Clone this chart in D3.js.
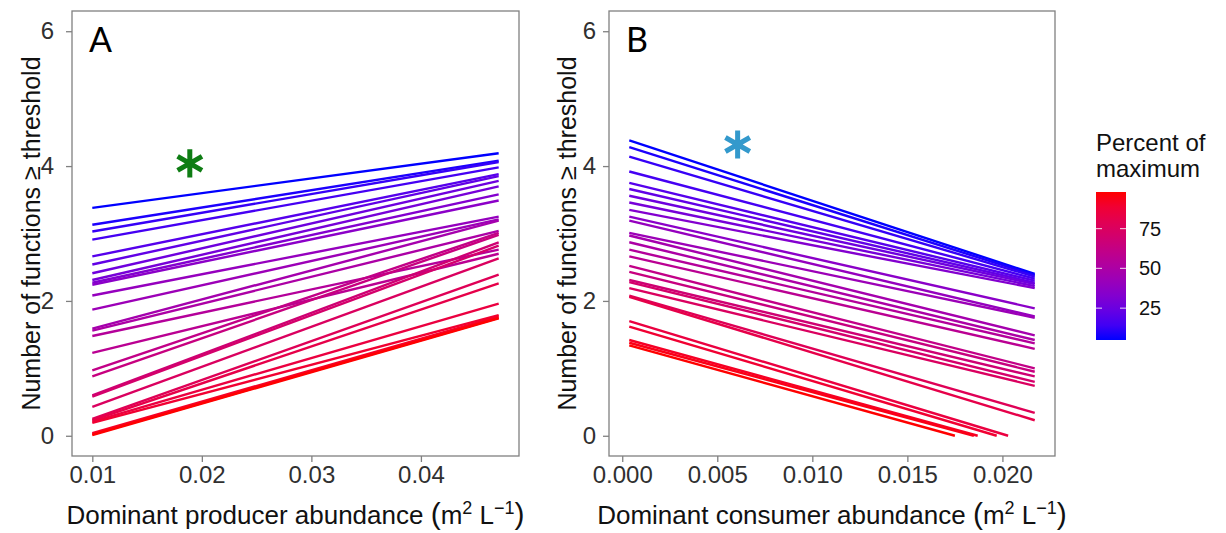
<!DOCTYPE html>
<html>
<head>
<meta charset="utf-8">
<script src="https://cdn.jsdelivr.net/npm/d3@7"></script>
<style>
  body { margin: 0; background: #fff; }
  text { font-family: "Liberation Sans", Arial, sans-serif; }
</style>
</head>
<body>
<svg id="chart" width="1226" height="533"></svg>
<script>
// Threshold (percent of maximum) for each fitted line
const thresholds = [5, 8, 12, 15, 19, 22, 26, 29, 33, 36, 40, 43, 47, 50, 54, 57, 61, 64, 68, 71, 75, 78, 82, 85, 89, 92, 95, 98];

// Panel A: dominant producer abundance
const producerRange = [0.01, 0.0471];
const producerStart = [3.38, 3.13, 3.03, 2.91, 2.66, 2.54, 2.41, 2.31, 2.27, 2.24, 2.08, 1.87, 1.59, 1.56, 1.48, 1.23, 0.97, 0.88, 0.60, 0.58, 0.43, 0.25, 0.23, 0.21, 0.19, 0.04, 0.02, 0.01];
const producerEnd = [4.19, 4.08, 4.06, 3.98, 3.88, 3.85, 3.78, 3.70, 3.58, 3.49, 3.25, 3.21, 3.19, 3.04, 2.76, 2.70, 3.01, 2.98, 2.87, 2.82, 2.63, 2.39, 2.26, 1.96, 1.79, 1.77, 1.75, 1.74];
const producerStop = [0.0471, 0.0471, 0.0471, 0.0471, 0.0471, 0.0471, 0.0471, 0.0471, 0.0471, 0.0471, 0.0471, 0.0471, 0.0471, 0.0471, 0.0471, 0.0471, 0.0471, 0.0471, 0.0471, 0.0471, 0.0471, 0.0471, 0.0471, 0.0471, 0.0471, 0.0471, 0.0471, 0.0471];

// Panel B: dominant consumer abundance (lowest lines cut off at zero)
const consumerRange = [0.00037, 0.0217];
const consumerStart = [4.38, 4.28, 4.14, 3.92, 3.75, 3.66, 3.56, 3.46, 3.35, 3.25, 3.19, 3.01, 2.97, 2.87, 2.76, 2.66, 2.52, 2.43, 2.31, 2.28, 2.19, 2.08, 2.06, 1.70, 1.62, 1.42, 1.38, 1.34];
const consumerEnd = [2.40, 2.38, 2.36, 2.33, 2.30, 2.27, 2.25, 2.22, 2.19, 1.89, 1.77, 1.75, 1.49, 1.42, 1.37, 1.29, 1.00, 0.95, 0.88, 0.80, 0.74, 0.34, 0.23, 0, 0, 0, 0, 0];
const consumerStop = [0.0217, 0.0217, 0.0217, 0.0217, 0.0217, 0.0217, 0.0217, 0.0217, 0.0217, 0.0217, 0.0217, 0.0217, 0.0217, 0.0217, 0.0217, 0.0217, 0.0217, 0.0217, 0.0217, 0.0217, 0.0217, 0.0217, 0.0217, 0.0203, 0.0197, 0.0187, 0.0185, 0.0175];

// Tick labels
const yTicks = [0, 2, 4, 6];
const producerTicks = [0.01, 0.02, 0.03, 0.04];
const consumerTicks = [0, 0.005, 0.01, 0.015, 0.02];
const legendTicks = [25, 50, 75];

const svg = d3.select("#chart");
const PANEL_TOP = 11;
const PANEL_BOTTOM = 456;
const BORDER = "#808080";

// Shared y scale (0..6 with ggplot style expansion)
const y = d3.scaleLinear().domain([-0.3, 6.3]).range([PANEL_BOTTOM, PANEL_TOP]);

// Blue -> red gradient on threshold (leans purple through the middle)
const ramp = d3.interpolateLab("blue", "red");
const color = d3.scaleSequential((t) => ramp(Math.pow(t, 1.35)))
  .domain(d3.extent(thresholds));

// Expand a data range by 5% on each side
const expand = ([a, b]) => [a - (b - a) * 0.05, b + (b - a) * 0.05];

const drawPanel = (p) => {
  const x = d3.scaleLinear().domain(expand(p.range)).range([p.left, p.right]);
  const g = svg.append("g");

  // Lines
  const series = thresholds.map((t, i) => ({
    t,
    pts: [[p.range[0], p.start[i]], [p.stop[i], p.end[i]]],
  }));
  g.append("g")
    .selectAll("path")
    .data(series)
    .join("path")
    .attr("d", (d) => d3.line().x((v) => x(v[0])).y((v) => y(v[1]))(d.pts))
    .attr("fill", "none")
    .attr("stroke", (d) => color(d.t))
    .attr("stroke-width", 2.4);

  // Panel border
  g.append("rect")
    .attr("x", p.left)
    .attr("y", PANEL_TOP)
    .attr("width", p.right - p.left)
    .attr("height", PANEL_BOTTOM - PANEL_TOP)
    .attr("fill", "none")
    .attr("stroke", BORDER)
    .attr("stroke-width", 1.3);

  // Y axis
  const yAxis = g.append("g")
    .attr("transform", `translate(${p.left},0)`)
    .call(d3.axisLeft(y).tickValues(yTicks).tickSize(6).tickPadding(p.yPad).tickFormat(d3.format("d")));
  yAxis.select(".domain").remove();
  yAxis.selectAll("line").attr("stroke", BORDER).attr("stroke-width", 1.3);
  yAxis.selectAll("text")
    .attr("fill", "#303030")
    .style("font-size", "24px");

  // X axis
  const xAxis = g.append("g")
    .attr("transform", `translate(0,${PANEL_BOTTOM})`)
    .call(d3.axisBottom(x).tickValues(p.ticks).tickSize(6).tickPadding(4).tickFormat(p.fmt));
  xAxis.select(".domain").remove();
  xAxis.selectAll("line").attr("stroke", BORDER).attr("stroke-width", 1.3);
  xAxis.selectAll("text")
    .attr("fill", "#303030")
    .style("font-size", "24px");

  // Y title
  g.append("text")
    .attr("transform", `translate(${p.yTitleX},${(PANEL_TOP + PANEL_BOTTOM) / 2}) rotate(-90)`)
    .attr("text-anchor", "middle")
    .style("font-size", "25px")
    .attr("fill", "#111")
    .text("Number of functions \u2265 threshold");

  // X title with superscripts
  const xt = g.append("text")
    .attr("x", (p.left + p.right) / 2)
    .attr("y", 524)
    .attr("text-anchor", "middle")
    .style("font-size", "26px")
    .attr("fill", "#111");
  xt.append("tspan").text(p.xTitle + " ");
  xt.append("tspan").style("font-size", "30px").text("(");
  xt.append("tspan").text("m");
  xt.append("tspan").attr("dy", -10).style("font-size", "18px").text("2");
  xt.append("tspan").attr("dy", 10).text(" L");
  xt.append("tspan").attr("dy", -10).style("font-size", "18px").text("\u22121");
  xt.append("tspan").attr("dy", 10).style("font-size", "30px").text(")");

  // Panel letter
  g.append("text")
    .attr("x", p.left + 17)
    .attr("y", 52)
    .style("font-family", "Lato, 'Open Sans', sans-serif")
    .style("font-size", "34px")
    .attr("fill", "#000")
    .text(p.letter);

  // Significance asterisk
  const [sx, sy] = p.star;
  const shape = d3.symbolAsterisk || d3.symbolCross;
  g.append("path")
    .attr("transform", `translate(${x(sx)},${y(sy)})`)
    .attr("d", d3.symbol(shape, 560)())
    .attr("fill", "none")
    .attr("stroke", p.starColor)
    .attr("stroke-width", 5);
};

drawPanel({
  left: 72, right: 519,
  range: producerRange, start: producerStart, end: producerEnd, stop: producerStop,
  ticks: producerTicks, fmt: d3.format(".2f"),
  yPad: 12, yTitleX: 40,
  xTitle: "Dominant producer abundance",
  letter: "A",
  star: [0.0189, 4.04], starColor: "#0f7d14",
});

drawPanel({
  left: 609, right: 1055,
  range: consumerRange, start: consumerStart, end: consumerEnd, stop: consumerStop,
  ticks: consumerTicks, fmt: d3.format(".3f"),
  yPad: 7, yTitleX: 576,
  xTitle: "Dominant consumer abundance",
  letter: "B",
  star: [0.00607, 4.32], starColor: "#3399cc",
});

// Colour legend
const legend = svg.append("g");
const legendY = d3.scaleLinear().domain(d3.extent(thresholds)).range([340, 192]);
const grad = svg.append("defs").append("linearGradient")
  .attr("id", "legend-grad")
  .attr("x1", 0).attr("y1", 1).attr("x2", 0).attr("y2", 0);
grad.selectAll("stop")
  .data(d3.range(0, 1.0001, 0.1))
  .join("stop")
  .attr("offset", (d) => d)
  .attr("stop-color", (d) => color(legendY.domain()[0] + d * (legendY.domain()[1] - legendY.domain()[0])));

legend.append("rect")
  .attr("x", 1096).attr("y", 192)
  .attr("width", 30).attr("height", 148)
  .attr("fill", "url(#legend-grad)");

legend.selectAll(".tick-l")
  .data(legendTicks)
  .join("line")
  .attr("x1", 1096).attr("x2", 1102)
  .attr("y1", (d) => legendY(d)).attr("y2", (d) => legendY(d))
  .attr("stroke", "#fff").attr("stroke-opacity", 0.7).attr("stroke-width", 1.2);
legend.selectAll(".tick-r")
  .data(legendTicks)
  .join("line")
  .attr("x1", 1120).attr("x2", 1126)
  .attr("y1", (d) => legendY(d)).attr("y2", (d) => legendY(d))
  .attr("stroke", "#fff").attr("stroke-opacity", 0.7).attr("stroke-width", 1.2);

legend.selectAll(".lab")
  .data(legendTicks)
  .join("text")
  .attr("x", 1139)
  .attr("y", (d) => legendY(d))
  .attr("dy", "0.35em")
  .style("font-size", "20px")
  .attr("fill", "#111")
  .text((d) => d);

legend.append("text")
  .attr("x", 1096).attr("y", 151)
  .style("font-size", "24px").attr("fill", "#111")
  .text("Percent of");
legend.append("text")
  .attr("x", 1096).attr("y", 177)
  .style("font-size", "24px").attr("fill", "#111")
  .text("maximum");
</script>
</body>
</html>
